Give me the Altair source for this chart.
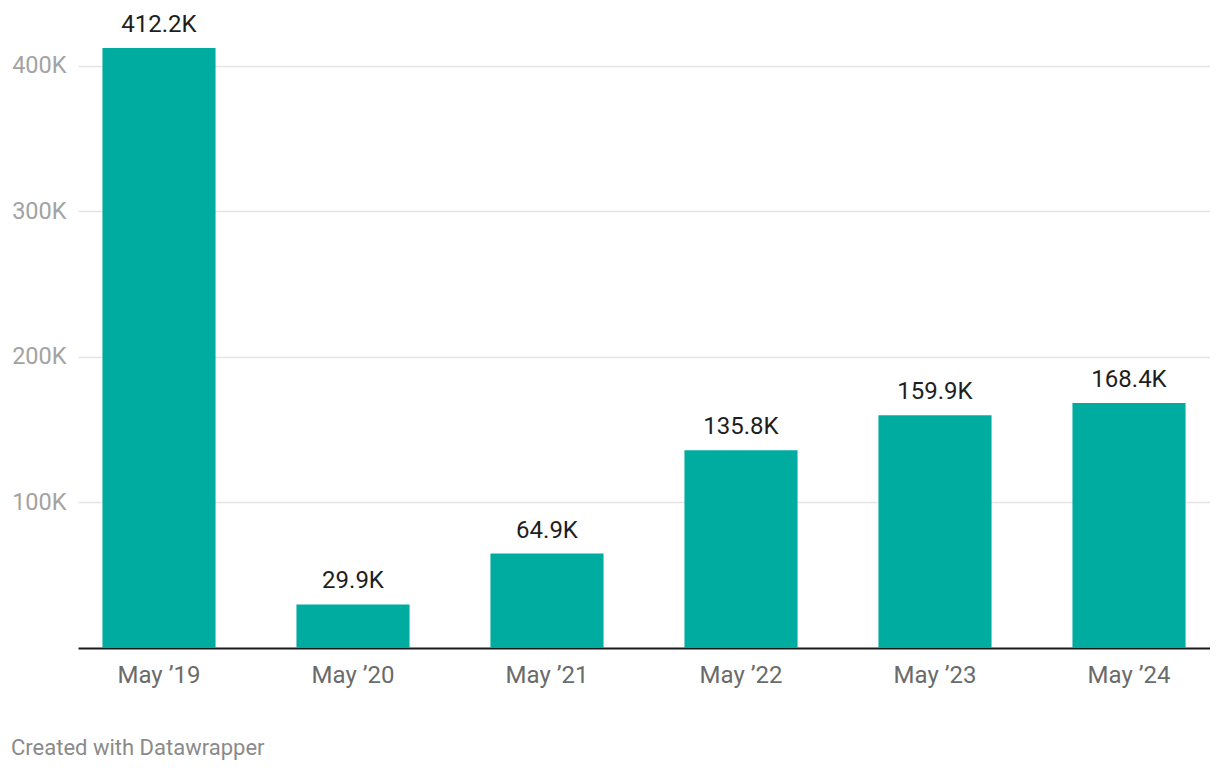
import altair as alt
import pandas as pd

categories = ["May ’19", "May ’20", "May ’21", "May ’22", "May ’23", "May ’24"]
values = [412.2, 29.9, 64.9, 135.8, 159.9, 168.4]  # thousands
labels = ["412.2K", "29.9K", "64.9K", "135.8K", "159.9K", "168.4K"]
y_ticks = [100, 200, 300, 400]

df = pd.DataFrame({"cat": categories, "val": values, "label": labels})

FONT = "Roboto"

x = alt.X("cat:N", sort=categories, title=None,
          scale=alt.Scale(paddingInner=0.417, paddingOuter=0.126),
          axis=alt.Axis(labelAngle=0, ticks=False, domainColor="#1a1a1a",
                        domainWidth=2, labelColor="#6b6b6b", labelFontSize=24,
                        labelFont=FONT, labelPadding=15, grid=False))
y = alt.Y("val:Q", title=None,
          scale=alt.Scale(domain=[0, 412.2], nice=False, zero=True),
          axis=alt.Axis(values=y_ticks, labelExpr="datum.value + 'K'",
                        ticks=False, domain=False, labelColor="#a3a3a3",
                        labelFontSize=23.5, labelFont=FONT, labelPadding=12,
                        gridColor="#e4e4e4", gridWidth=1.4))

bars = alt.Chart(df).mark_bar(color="#00aba0").encode(x=x, y=y)
text = alt.Chart(df).mark_text(baseline="bottom", dy=-11, fontSize=24,
                               font=FONT, color="#1e1e1e").encode(
    x=alt.X("cat:N", sort=categories), y="val:Q", text="label:N")

chart = (bars + text).properties(
    width=1132, height=600,
    autosize=alt.AutoSizeParams(type="none"),
    padding={"left": 70, "top": 40, "right": 0, "bottom": 114},
    title=alt.TitleParams("Created with Datawrapper", orient="bottom",
                          anchor="start", frame="group", dx=-67, offset=51,
                          fontSize=22, font=FONT, fontWeight="normal",
                          color="#8a8a8a"),
).configure_view(stroke=None).configure(background="white")

chart = chart.configure_view(stroke=None)

chart.save("out.html", embed_options={"renderer": "svg", "actions": False})
